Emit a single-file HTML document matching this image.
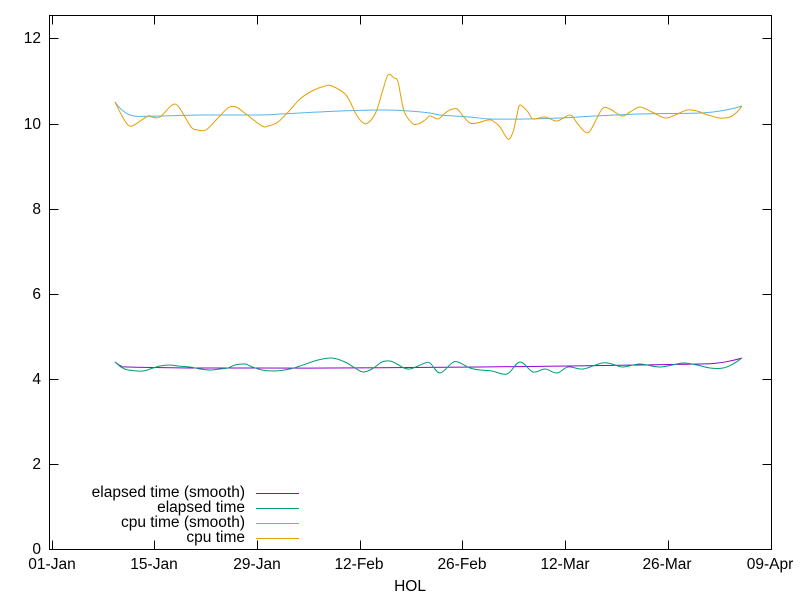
<!DOCTYPE html>
<html><head><style>body{margin:0;background:#fff}svg{display:block}text{font-family:"Liberation Sans",sans-serif;font-size:15.5px}</style></head><body>
<svg width="800" height="600" viewBox="0 0 800 600" xmlns="http://www.w3.org/2000/svg">
<rect x="0" y="0" width="800" height="600" fill="#fff"/>
<g stroke="#000" stroke-width="1" fill="none">
<rect x="49.5" y="15.5" width="722" height="534"/>
<path d="M49.5 549.5h9M49.5 464.5h9M49.5 379.5h9M49.5 294.5h9M49.5 209.5h9M49.5 124.5h9M49.5 38.5h9
M771.5 549.5h-9M771.5 464.5h-9M771.5 379.5h-9M771.5 294.5h-9M771.5 209.5h-9M771.5 124.5h-9M771.5 38.5h-9
M52.5 549.5v-9M154.5 549.5v-9M257.5 549.5v-9M360.5 549.5v-9M462.5 549.5v-9M565.5 549.5v-9M668.5 549.5v-9M771.5 549.5v-9
M52.5 15.5v9M154.5 15.5v9M257.5 15.5v9M360.5 15.5v9M462.5 15.5v9M565.5 15.5v9M668.5 15.5v9"/>
</g>
<g text-anchor="end">
<text x="41" y="554">0</text><text x="41" y="469">2</text><text x="41" y="384">4</text><text x="41" y="299">6</text><text x="41" y="214">8</text><text x="41" y="129">10</text><text x="41" y="43">12</text>
</g>
<g text-anchor="middle">
<text x="52" y="569">01-Jan</text><text x="154" y="569">15-Jan</text><text x="257" y="569">29-Jan</text><text x="359" y="569">12-Feb</text><text x="462" y="569">26-Feb</text><text x="565" y="569">12-Mar</text><text x="667" y="569">26-Mar</text><text x="770" y="569">09-Apr</text>
<text x="410" y="591">HOL</text>
</g>
<g fill="none" stroke-width="1">
<polyline class="s" stroke="#56b4e9" points="115,102 122,110 134,116 160,116 200,115 260,115 280,114 300,113 340,111 385,110 410,111 430,113 440,115 470,117 490,119 525,119 560,118 595,116 640,114 700,113 720,111 735,108 742,106"/>
<polyline class="s" stroke="#e69f00" points="115,102 121,114 128,125 134,125 148,116 152,117 160,117 172,105 178,106 185,117 192,128 198,130 206,130 217,119 228,108 236,107 246,114 262,126 268,126 278,122 290,110 300,99 312,91 325,86 332,86 346,95 356,114 362,122 368,123 376,112 382,93 388,75 394,78 398,82 404,111 412,123 418,124 425,120 430,116 438,119 444,114 450,110 457,109 463,116 470,123 477,123 488,120 493,121 500,127 508,139 513,132 517,115 520,105 528,112 533,119 545,117 557,121 570,115 577,123 585,132 590,131 597,118 603,108 610,109 622,116 630,112 640,107 652,112 665,118 675,115 687,110 697,111 708,115 720,118 730,117 737,112 742,106"/>
<polyline class="s" stroke="#9400d3" points="115,362 121,366 128,367 200,368 330,368 480,367 570,366 640,365 700,364 718,363 730,361 742,358"/>
<polyline class="s" stroke="#009e73" points="115,362 121,367 128,370 143,371 150,369 160,366 170,365 178,366 190,367 200,369 210,370 220,369 228,368 235,365 245,364 250,366 262,370 275,371 290,369 300,366 318,360 332,358 345,362 355,368 363,372 372,369 382,362 390,361 397,364 404,368 410,369 418,366 425,363 430,363 440,373 452,363 458,362 470,368 480,370 492,371 507,374 520,362 533,372 545,369 557,373 568,367 583,369 602,363 612,364 623,367 640,364 660,367 683,363 697,365 710,368 723,368 733,364 742,358"/>
</g>
<g text-anchor="end">
<text x="245" y="497">elapsed time (smooth)</text>
<text x="245" y="512">elapsed time</text>
<text x="245" y="527">cpu time (smooth)</text>
<text x="245" y="542">cpu time</text>
</g>
<g stroke-width="1">
<line x1="256" y1="493.5" x2="299" y2="493.5" stroke="#9400d3"/>
<line x1="256" y1="508.5" x2="299" y2="508.5" stroke="#009e73"/>
<line x1="256" y1="523.5" x2="299" y2="523.5" stroke="#56b4e9"/>
<line x1="256" y1="538.5" x2="299" y2="538.5" stroke="#e69f00"/>
</g>
</svg>
<script>
document.querySelectorAll('polyline.s').forEach(function(pl){
var p=pl.getAttribute('points').trim().split(/\s+/).map(function(s){return s.split(',').map(Number)});
var d='M'+p[0][0]+' '+p[0][1];
for(var i=0;i<p.length-1;i++){
var p0=p[i-1]||p[i],p1=p[i],p2=p[i+1],p3=p[i+2]||p2;
var c1x=p1[0]+(p2[0]-p0[0])/6,c1y=p1[1]+(p2[1]-p0[1])/6;
var c2x=p2[0]-(p3[0]-p1[0])/6,c2y=p2[1]-(p3[1]-p1[1])/6;
d+='C'+c1x.toFixed(2)+' '+c1y.toFixed(2)+' '+c2x.toFixed(2)+' '+c2y.toFixed(2)+' '+p2[0]+' '+p2[1];}
var path=document.createElementNS('http://www.w3.org/2000/svg','path');
path.setAttribute('d',d);path.setAttribute('stroke',pl.getAttribute('stroke'));path.setAttribute('fill','none');path.setAttribute('stroke-width','1');
pl.parentNode.replaceChild(path,pl);});
</script>
</body></html>
